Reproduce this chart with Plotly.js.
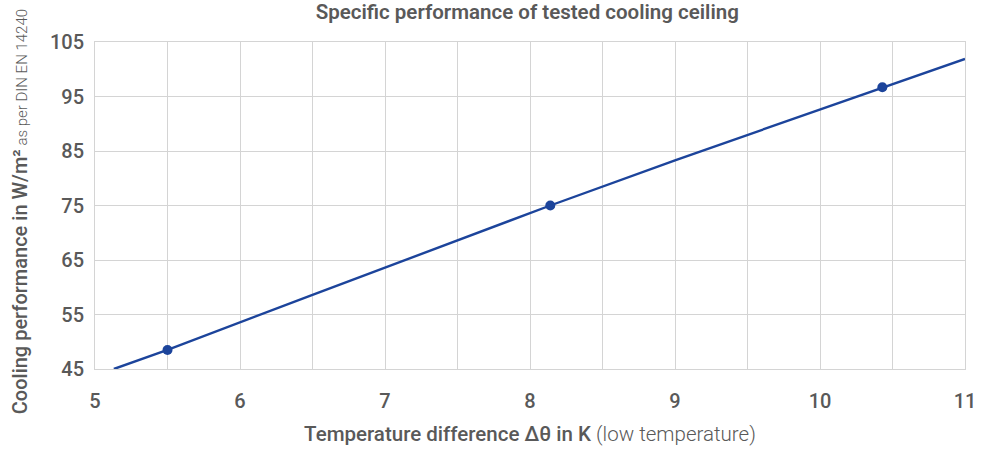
<!DOCTYPE html>
<html><head><meta charset="utf-8">
<script src="https://cdn.plot.ly/plotly-3.0.1.min.js"></script>
<style>body{margin:0;background:#fff}#c{width:993px;height:450px}</style>
</head><body><div id="c"></div>
<script>
// Curve
const curveX = [5.13, 5.5, 6.5, 7.5, 8.14, 9.0, 10.0, 10.43, 11.0];
const curveY = [45.0, 48.5, 58.6, 68.6, 75.0, 83.3, 92.6, 96.7, 101.9];
// Measured points
const pointX = [5.5, 8.14, 10.43];
const pointY = [48.5, 75.0, 96.7];
const xTicks = [5, 6, 7, 8, 9, 10, 11];
const xMinor = [5.5, 6.5, 7.5, 8.5, 9.5, 10.5];
const yTicks = [45, 55, 65, 75, 85, 95, 105];

const font = 'Roboto, "Liberation Sans", sans-serif';
const blue = '#1c449b';
const gray = '#595959';
const grid = '#d4d4d4';

Plotly.newPlot('c', [
  {x: curveX, y: curveY, mode: 'lines', line: {color: blue, width: 2.4}, hoverinfo: 'skip', showlegend: false},
  {x: pointX, y: pointY, mode: 'markers', marker: {color: blue, size: 10}, showlegend: false}
], {
  width: 993, height: 450,
  margin: {l: 95, r: 28, t: 42, b: 81},
  paper_bgcolor: '#fff', plot_bgcolor: '#fff',
  title: {text: 'Specific performance of tested cooling ceiling', x: 0.531, xanchor: 'center', y: 0.99, yanchor: 'top',
          font: {family: font, size: 20.5, color: gray, weight: 600}},
  annotations: [{
    text: 'Cooling performance in W/m²<span style="font-size:15px;font-weight:300"> as per DIN EN 14240</span>',
    xref: 'paper', yref: 'paper', x: -0.086, y: 0.48, xanchor: 'center', yanchor: 'middle',
    textangle: -90, showarrow: false,
    font: {family: font, size: 20, color: gray, weight: 500}
  }],
  xaxis: {range: [5, 11], tickvals: xTicks, ticktext: xTicks.map(String),
          showgrid: true, gridcolor: grid, gridwidth: 1,
          minor: {tickmode: 'array', tickvals: xMinor, showgrid: true, gridcolor: grid, gridwidth: 1},
          showline: true, linecolor: grid, mirror: true, zeroline: false,
          ticks: '', ticklabelstandoff: 14,
          tickfont: {family: font, size: 20, color: gray, weight: 500},
          title: {text: 'Temperature difference Δθ in K <span style="font-weight:300">(low temperature)</span>', standoff: 14,
                  font: {family: font, size: 20.5, color: gray, weight: 500}}},
  yaxis: {range: [45, 105], tickvals: yTicks, ticktext: yTicks.map(String),
          showgrid: true, gridcolor: grid, gridwidth: 1,
          showline: true, linecolor: grid, mirror: true, zeroline: false,
          ticks: '', ticklabelstandoff: 6,
          tickfont: {family: font, size: 20, color: gray, weight: 500}}
}, {displayModeBar: false, staticPlot: true});
</script></body></html>
